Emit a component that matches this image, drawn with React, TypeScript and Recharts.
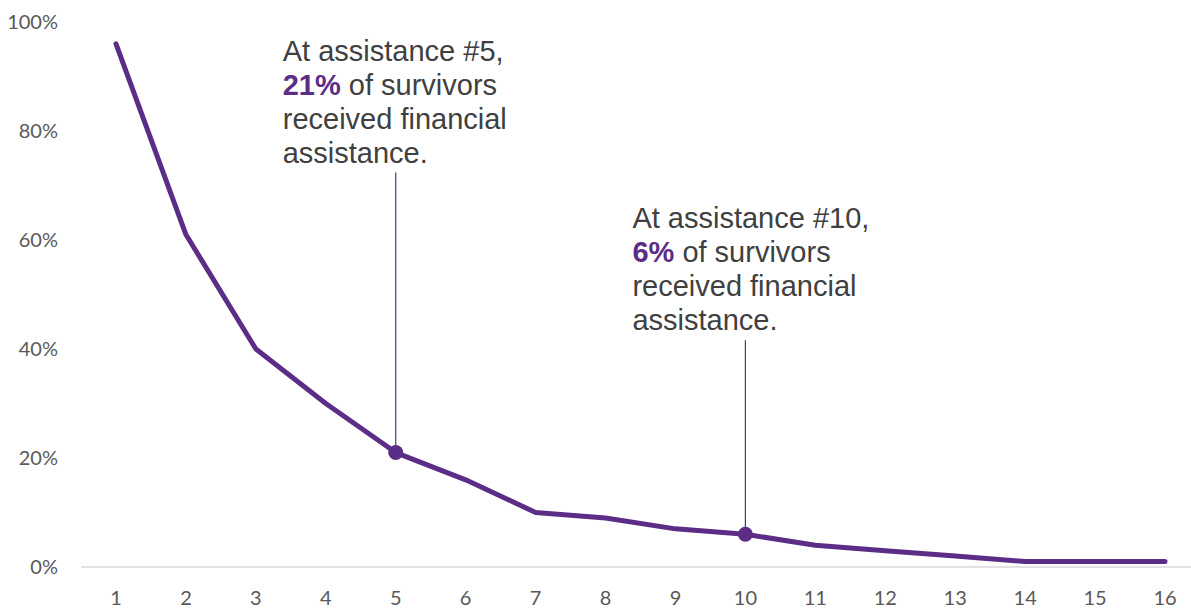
import { LineChart, Line, XAxis, YAxis } from 'recharts';

// Assistance number on the x axis, share of survivors (%) on the y axis
const assistanceNumbers = [1, 2, 3, 4, 5, 6, 7, 8, 9, 10, 11, 12, 13, 14, 15, 16];
const survivorShare = [96, 61, 40, 30, 21, 16, 10, 9, 7, 6, 4, 3, 2, 1, 1, 1];
const percentTicks = [0, 20, 40, 60, 80, 100];

// Points that get a marker and a callout
const calloutPoints = [5, 10];
const calloutLeads = ['At assistance #5,', 'At assistance #10,'];
const calloutTail = ['of survivors', 'received financial', 'assistance.'];

const data = assistanceNumbers.map((n, i) => ({ n, share: survivorShare[i] }));

const PURPLE = '#5C2D87';
const TEXT = '#404040';
const AXIS_TEXT = '#595959';

// how far the leader line rises above each marked point (px)
const calloutRise = [280, 194];
const CALLOUT_FONT = 29;
const CALLOUT_LINE = 34;

const renderDot = (props: any) => {
  const { cx, cy, index, payload } = props;
  const k = calloutPoints.indexOf(payload.n);
  if (k < 0) return <g key={`dot-${index}`} />;

  const top = cy - calloutRise[k];
  const textX = cx - 113;
  const lastBaseline = top - 10;
  const firstBaseline = lastBaseline - 3 * CALLOUT_LINE;

  return (
    <g key={`dot-${index}`}>
      <line x1={cx} x2={cx} y1={top} y2={cy} stroke={PURPLE} strokeWidth={1.2} />
      <circle cx={cx} cy={cy} r={7.5} fill={PURPLE} />
      <text
        x={textX}
        y={firstBaseline}
        fontFamily="'Liberation Sans', Arial, sans-serif"
        fontSize={CALLOUT_FONT}
        fill={TEXT}
      >
        <tspan x={textX} y={firstBaseline}>{calloutLeads[k]}</tspan>
        <tspan x={textX} y={firstBaseline + CALLOUT_LINE} fill={PURPLE} fontWeight="bold">
          {`${payload.share}%`}
        </tspan>
        <tspan> {calloutTail[0]}</tspan>
        <tspan x={textX} y={firstBaseline + 2 * CALLOUT_LINE}>{calloutTail[1]}</tspan>
        <tspan x={textX} y={firstBaseline + 3 * CALLOUT_LINE}>{calloutTail[2]}</tspan>
      </text>
    </g>
  );
};

export default function App() {
  return (
    <div style={{ position: 'absolute', left: 0, top: 0, background: '#fff' }}>
      <LineChart
        width={1191}
        height={608}
        data={data}
        margin={{ top: 22, right: 0, bottom: 0, left: 0 }}
      >
        <XAxis
          dataKey="n"
          height={41}
          padding={{ left: 35, right: 26 }}
          axisLine={{ stroke: '#d9d9d9', strokeWidth: 1.5 }}
          tickLine={false}
          tickSize={0}
          tickMargin={24}
          interval={0}
          tick={{ fill: AXIS_TEXT, fontSize: 20, fontFamily: 'Lato, sans-serif' }}
        />
        <YAxis
          width={81}
          domain={[0, 100]}
          ticks={percentTicks}
          tickFormatter={(v: number) => `${v}%`}
          axisLine={false}
          tickLine={false}
          tickSize={0}
          tickMargin={23}
          tick={{ fill: AXIS_TEXT, fontSize: 20, fontFamily: 'Lato, sans-serif' }}
        />
        <Line
          type="linear"
          dataKey="share"
          stroke={PURPLE}
          strokeWidth={5}
          strokeLinejoin="round"
          strokeLinecap="round"
          dot={renderDot}
          activeDot={false}
          isAnimationActive={false}
        />
      </LineChart>
    </div>
  );
}
